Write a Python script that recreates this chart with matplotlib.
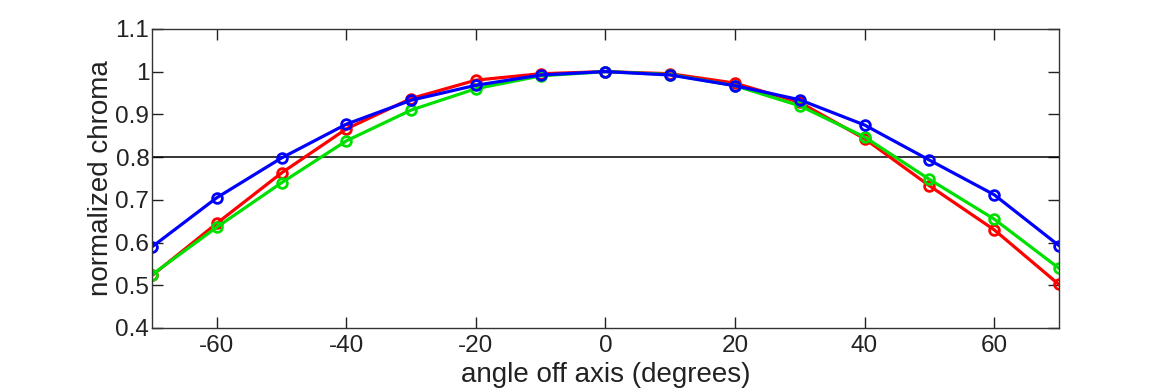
import matplotlib
matplotlib.use("Agg")
import matplotlib.pyplot as plt

angles = [-70, -60, -50, -40, -30, -20, -10, 0, 10, 20, 30, 40, 50, 60, 70]
red = [0.523, 0.645, 0.763, 0.866, 0.937, 0.980, 0.995, 1.0, 0.995, 0.973, 0.928, 0.843, 0.733, 0.630, 0.502]
green = [0.525, 0.636, 0.740, 0.838, 0.910, 0.960, 0.990, 1.0, 0.993, 0.967, 0.920, 0.847, 0.748, 0.655, 0.540]
blue = [0.590, 0.705, 0.798, 0.877, 0.933, 0.968, 0.992, 1.0, 0.992, 0.967, 0.934, 0.875, 0.793, 0.712, 0.593]
threshold = 0.8
xticks = [-60, -40, -20, 0, 20, 40, 60]
yticks = [0.4, 0.5, 0.6, 0.7, 0.8, 0.9, 1.0, 1.1]
yticklabels = ["0.4", "0.5", "0.6", "0.7", "0.8", "0.9", "1", "1.1"]

plt.rcParams['font.family'] = ['Liberation Sans', 'DejaVu Sans']
plt.rcParams['axes.unicode_minus'] = False

fig = plt.figure(figsize=(11.7, 3.9), dpi=100)
ax = fig.add_axes([0.130, 0.159, 0.775, 0.767])

ax.axhline(threshold, color='black', linewidth=1.1)
for vals, col in [(red, '#ff0000'), (green, '#00e000'), (blue, '#0000ff')]:
    ax.plot(angles, vals, color=col, linewidth=2.3, marker='o', markersize=7,
            markerfacecolor='none', markeredgewidth=2.0)

ax.set_xlim(-70, 70)
ax.set_ylim(0.4, 1.1)
ax.set_xticks(xticks)
ax.set_yticks(yticks)
ax.set_yticklabels(yticklabels)
ax.tick_params(direction='in', length=8, width=1, labelsize=17.5, top=True, right=True, colors='#222222')
ax.tick_params(axis='x', pad=5)
ax.tick_params(axis='y', pad=2)
for s in ax.spines.values():
    s.set_linewidth(1.0)
    s.set_color('#333333')
ax.set_xlabel('angle off axis (degrees)', fontsize=20, color='#222222', labelpad=4)
ax.set_ylabel('normalized chroma', fontsize=20, color='#222222', labelpad=1)

fig.savefig('out.png', dpi=100, facecolor='white')
